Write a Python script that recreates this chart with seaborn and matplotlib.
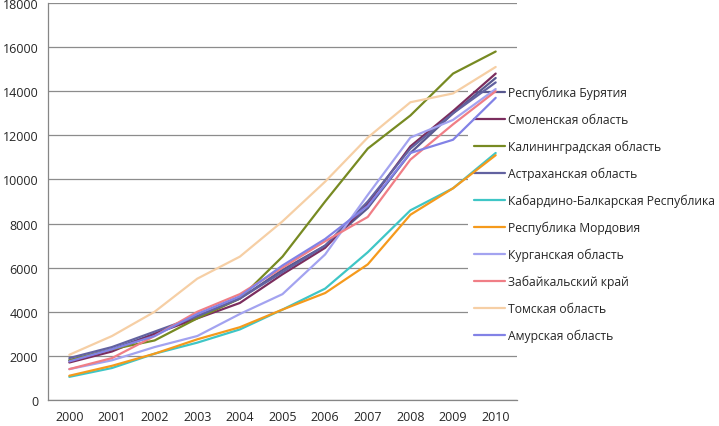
import pandas as pd
import numpy as np
import matplotlib
matplotlib.use("Agg")
import matplotlib.pyplot as plt
import seaborn as sns

years = [2000, 2001, 2002, 2003, 2004, 2005, 2006, 2007, 2008, 2009, 2010]

regions = [
    "Республика Бурятия",
    "Смоленская область",
    "Калининградская область",
    "Астраханская область",
    "Кабардино-Балкарская Республика",
    "Республика Мордовия",
    "Курганская область",
    "Забайкальский край",
    "Томская область",
    "Амурская область",
]

buryatia = [1800, 2300, 3000, 3800, 4600, 5900, 7000, 8700, 11200, 13000, 14600]
smolensk = [1700, 2200, 3000, 3700, 4400, 5700, 6900, 8900, 11500, 13100, 14800]
kaliningrad = [1800, 2300, 2700, 3700, 4600, 6500, 9000, 11400, 12900, 14800, 15800]
astrakhan = [1900, 2400, 3100, 3800, 4600, 5800, 7000, 9000, 11400, 13000, 14400]
kbr = [1050, 1450, 2100, 2600, 3200, 4100, 5050, 6700, 8600, 9600, 11200]
mordovia = [1100, 1550, 2100, 2750, 3300, 4100, 4850, 6150, 8400, 9600, 11100]
kurgan = [1400, 1800, 2400, 2900, 3900, 4800, 6600, 9300, 11900, 12700, 14100]
zabaykal = [1400, 1900, 2900, 4000, 4800, 6000, 7200, 8300, 10900, 12500, 14000]
tomsk = [2050, 2900, 4000, 5500, 6500, 8100, 9900, 11900, 13500, 13900, 15100]
amur = [1750, 2300, 2900, 3900, 4700, 6100, 7300, 8800, 11200, 11800, 13700]

colors = ["#58588f", "#7b2d5e", "#778a22", "#6262a0", "#3fc6c6",
          "#f59a1c", "#a3a3f0", "#f07e86", "#f6cfa5", "#8282e6"]

series = [buryatia, smolensk, kaliningrad, astrakhan, kbr,
          mordovia, kurgan, zabaykal, tomsk, amur]

rows = []
for name, vals in zip(regions, series):
    for y, v in zip(years, vals):
        rows.append({"year": y, "value": v, "region": name})
df = pd.DataFrame(rows)

sns.set_style("white")
plt.rcParams["font.family"] = ["Open Sans", "DejaVu Sans"]

fig = plt.figure(figsize=(7.19, 4.27), dpi=100)
ax = fig.add_axes([48 / 719, 1 - 401 / 427, 469 / 719, 397 / 427])

sns.lineplot(data=df, x="year", y="value", hue="region", hue_order=regions,
             palette=dict(zip(regions, colors)), linewidth=1.6, ax=ax,
             legend=True, zorder=3)

ax.set_xlim(1999.5, 2010.5)
ax.set_ylim(0, 18000)
ax.set_yticks(np.arange(0, 18001, 2000))
ax.set_xticks(years)
ax.set_xticks(np.arange(1999.5, 2010.6, 1), minor=True)
ax.tick_params(axis="x", which="major", length=0, labelsize=9, pad=7)
ax.tick_params(axis="x", which="minor", length=4, color="#868686", direction="out")
ax.tick_params(axis="y", length=4, color="#868686", direction="out", labelsize=9, pad=3)
ax.set_xlabel("")
ax.set_ylabel("")

ax.set_axisbelow(True)
ax.grid(axis="y", color="#8c8c8c", linewidth=0.9)
ax.grid(axis="x", visible=False)
for side in ["top", "right"]:
    ax.spines[side].set_visible(False)
for side in ["left", "bottom"]:
    ax.spines[side].set_color("#868686")
    ax.spines[side].set_linewidth(0.9)

leg = ax.legend(loc="upper left", bbox_to_anchor=(468 / 719, 1 - 81 / 427),
                bbox_transform=fig.transFigure, frameon=True, fontsize=8.7,
                handlelength=2.6, handletextpad=0.2, labelspacing=1.13,
                borderpad=0.5, borderaxespad=0)
leg.get_frame().set_facecolor("white")
leg.get_frame().set_edgecolor("none")
leg.get_frame().set_alpha(1)
leg.set_zorder(1.5)
for line in leg.get_lines():
    line.set_linewidth(1.6)

fig.savefig("out.png", dpi=100)
